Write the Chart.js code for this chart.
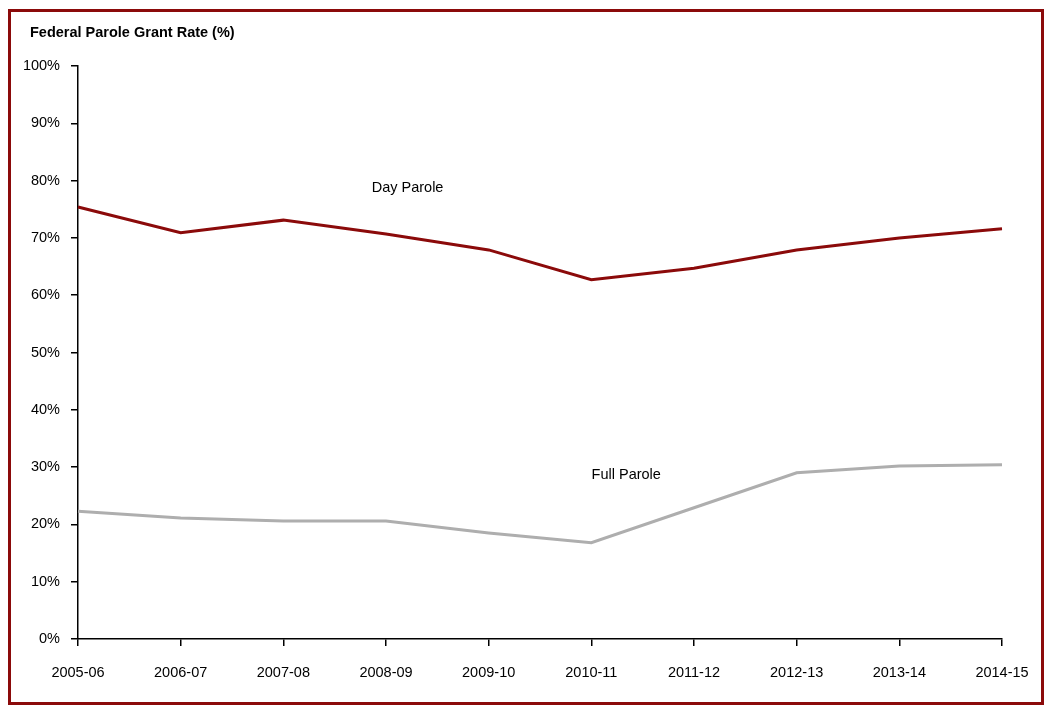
<!DOCTYPE html>
<html>
<head>
<meta charset="utf-8">
<script src="https://cdn.jsdelivr.net/npm/chart.js@4/dist/chart.umd.min.js"></script>
<style>
  html, body { margin: 0; padding: 0; background: #fff; }
  #wrap { position: relative; width: 1055px; height: 711px; }
  #frame { position: absolute; left: 8px; top: 9px; width: 1030px; height: 690px; border: 3px solid #8B0A0A; pointer-events: none; }
  canvas { position: absolute; left: 0; top: 0; }
</style>
</head>
<body>
<div id="wrap">
  <canvas id="c" width="1055" height="711"></canvas>
  <div id="frame"></div>
</div>
<script>
const chartTitle = "Federal Parole Grant Rate (%)";
const categories = ["2005-06","2006-07","2007-08","2008-09","2009-10","2010-11","2011-12","2012-13","2013-14","2014-15"];
const dayParole = [75.4, 70.9, 73.1, 70.7, 67.9, 62.7, 64.7, 67.9, 70.0, 71.6];
const fullParole = [22.3, 21.1, 20.6, 20.6, 18.5, 16.8, 22.9, 29.0, 30.2, 30.4];
const yTicks = [0,10,20,30,40,50,60,70,80,90,100];
const seriesLabels = [
  { text: "Day Parole", x: 3.21, y: 78.7 },
  { text: "Full Parole", x: 5.34, y: 28.6 }
];

const FONT = "'Liberation Sans', Arial, sans-serif";

const textPlugin = {
  id: 'texts',
  afterDraw(chart) {
    const ctx = chart.ctx;
    const xs = chart.scales.x, ys = chart.scales.y;
    ctx.save();
    ctx.fillStyle = "#000";
    ctx.textBaseline = "middle";
    ctx.font = "bold 14.5px " + FONT;
    ctx.textAlign = "left";
    ctx.fillText(chartTitle, 30, 33);
    ctx.font = "14.5px " + FONT;
    ctx.textAlign = "center";
    seriesLabels.forEach(l => {
      ctx.fillText(l.text, xs.getPixelForValue(l.x), ys.getPixelForValue(l.y));
    });
    ctx.restore();
  }
};

new Chart(document.getElementById('c'), {
  type: 'line',
  data: {
    labels: categories,
    datasets: [
      { label: "Day Parole", data: dayParole, borderColor: "#8B0A0A", borderWidth: 3, pointRadius: 0, tension: 0, fill: false },
      { label: "Full Parole", data: fullParole, borderColor: "#AEAEAE", borderWidth: 3, pointRadius: 0, tension: 0, fill: false }
    ]
  },
  options: {
    responsive: false,
    animation: false,
    devicePixelRatio: 1,
    layout: { padding: { left: 16, top: 66, right: 53, bottom: 20 } },
    plugins: {
      legend: { display: false },
      tooltip: { enabled: false },
      title: { display: false }
    },
    scales: {
      x: {
        type: 'category',
        offset: false,
        grid: { display: true, drawOnChartArea: false, drawTicks: true, tickLength: 7, color: "#000", lineWidth: 1.5 },
        border: { display: true, color: "#000", width: 1.5 },
        ticks: { color: "#000", font: { family: FONT, size: 14.5 }, padding: 18, maxRotation: 0, autoSkip: false },
        afterFit(scale) { scale.height = 52; }
      },
      y: {
        min: 0, max: 100,
        afterBuildTicks(scale) { scale.ticks = yTicks.map(v => ({ value: v })); },
        grid: { display: true, drawOnChartArea: false, drawTicks: true, tickLength: 7, color: "#000", lineWidth: 1.5 },
        border: { display: true, color: "#000", width: 1.5 },
        ticks: { color: "#000", font: { family: FONT, size: 14.5 }, padding: 11, callback: v => v + "%" },
        afterFit(scale) { scale.width = 62; }
      }
    }
  },
  plugins: [textPlugin]
});
</script>
</body>
</html>
